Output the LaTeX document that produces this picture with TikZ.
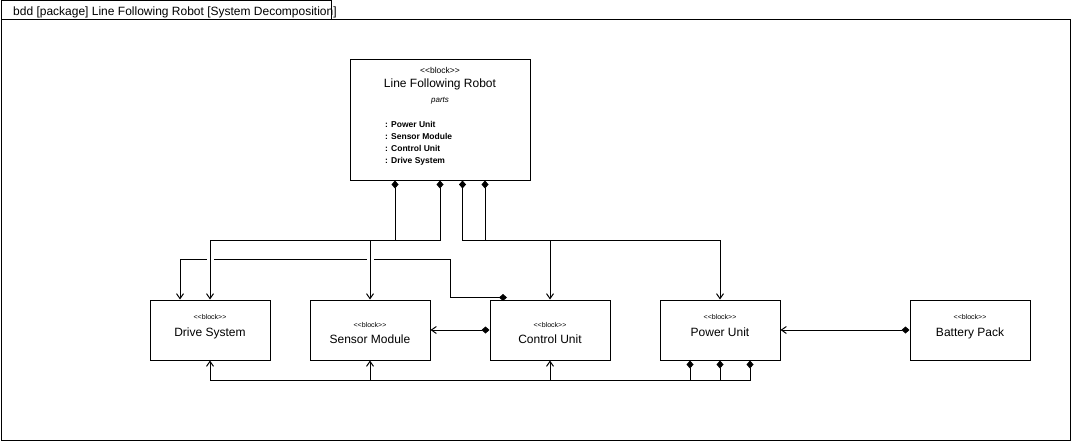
\documentclass[tikz,border=0pt]{standalone}
\usepackage{fontspec}
\setmainfont{Liberation Sans}[Ligatures=TeXOff]
\usetikzlibrary{arrows.meta}
\begin{document}
\begin{tikzpicture}[x=1pt,y=-1pt,
  blk/.style={draw,line width=1pt,minimum width=120pt,minimum height=60pt,inner sep=0pt},
  comp/.style={line width=1pt,{Diamond[length=8pt,width=7pt]}-{Straight Barb[length=5pt,width=7pt]}},
  sterbig/.style={font=\fontsize{8.5}{10}\selectfont,anchor=base,inner sep=0pt},
  ster/.style={font=\fontsize{7}{8}\selectfont,anchor=base,inner sep=0pt},
  bname/.style={font=\fontsize{12}{14}\selectfont,anchor=base,inner sep=0pt},
  plab/.style={font=\fontsize{8}{9}\selectfont\itshape,anchor=base,inner sep=0pt},
  plist/.style={font=\fontsize{8.5}{10}\selectfont\bfseries,anchor=base west,inner sep=0pt}]
\useasboundingbox (0,0) rectangle (1071,441);
% frame
\draw[line width=1pt] (1,20) rectangle (1070,440);
\draw[line width=1pt] (1,0.5) rectangle (331,20);
\node[bname,anchor=base west] (title) at (13,16) {bdd [package] Line Following Robot [System Decomposition]};
% blocks
\node[blk,minimum width=180pt,minimum height=120pt] (lfr) at (440,120) {};
\node[blk] (drive) at (210,330) {};
\node[blk] (sensor) at (370,330) {};
\node[blk] (cu) at (550,330) {};
\node[blk] (pu) at (720,330) {};
\node[blk] (bat) at (970,330) {};
% texts
\node[sterbig] (lfrs) at (440,74) {<<block>>};
\node[bname] (lfrn) at (440,88) {Line Following Robot};
\node[plab] (lfrp) at (440,103) {parts};
\node[plist] (p1) at (385,127.5) {: Power Unit};
\node[plist] (p2) at (385,139.5) {: Sensor Module};
\node[plist] (p3) at (385,151.5) {: Control Unit};
\node[plist] (p4) at (385,163.5) {: Drive System};
\node[ster] (ds) at (210,319) {<<block>>};
\node[bname] (dn) at (210,336) {Drive System};
\node[ster] (ss) at (370,327) {<<block>>};
\node[bname] (sn) at (370,343) {Sensor Module};
\node[ster] (cs) at (550,327) {<<block>>};
\node[bname] (cn) at (550,343) {Control Unit};
\node[ster] (ps) at (720,319) {<<block>>};
\node[bname] (pn) at (720,336) {Power Unit};
\node[ster] (bs) at (970,319) {<<block>>};
\node[bname] (bn) at (970,336) {Battery Pack};
% control unit -> drive system (with line jumps)
\draw[comp] ([xshift=-43pt,yshift=2pt]cu.north) -- ++(-57,0) -- ++(0,-38) -| ([xshift=-30pt]drive.north);
\fill[white] (206.5,256) rectangle (213.5,264);
\fill[white] (366.5,256) rectangle (373.5,264);
% top block compositions
\draw[comp] ([xshift=-45pt]lfr.south) -- ++(0,60) -| (drive.north);
\draw[comp] (lfr.south) -- ++(0,60) -| (sensor.north);
\draw[comp] ([xshift=22.5pt]lfr.south) -- ++(0,60) -| (cu.north);
\draw[comp] ([xshift=45pt]lfr.south) -- ++(0,60) -| (pu.north);
% side compositions
\draw[comp] (cu.west) -- (sensor.east);
\draw[comp] (bat.west) -- (pu.east);
% power unit bottom
\draw[comp] ([xshift=-30pt]pu.south) -- ++(0,20) -| (drive.south);
\draw[comp] (pu.south) -- ++(0,20) -| (sensor.south);
\draw[comp] ([xshift=30pt]pu.south) -- ++(0,20) -| (cu.south);
\end{tikzpicture}
\end{document}
